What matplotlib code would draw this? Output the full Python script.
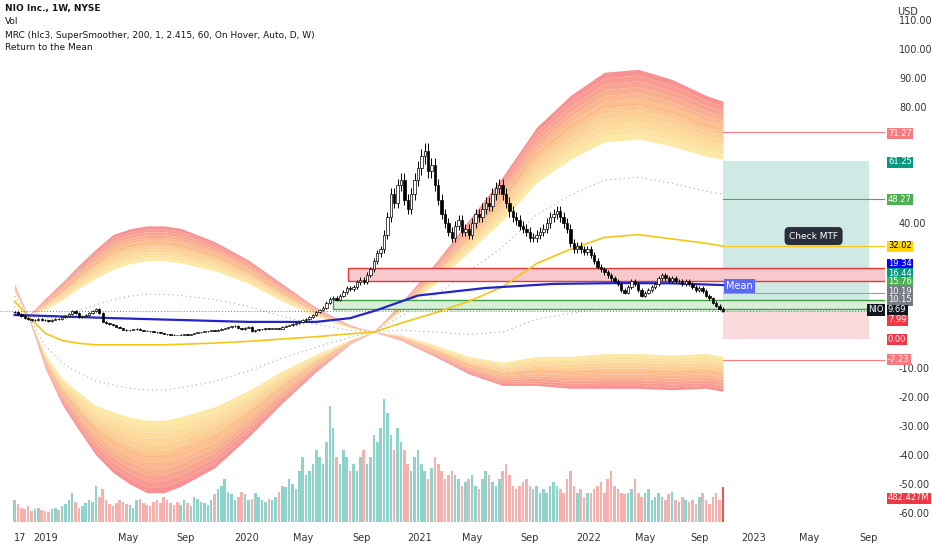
import numpy as np
import matplotlib.pyplot as plt
from matplotlib.colors import LinearSegmentedColormap
from matplotlib.patches import Rectangle

# weekly closes, week 0 = first week of 2019
first_week = -9
closes = [9.3, 8.5, 7.8, 7.2, 6.8, 6.4, 6.5, 6.9, 6.6, 6.4,
          6.2, 6.7, 7.0, 6.8, 7.5, 7.8, 8.5, 9.5, 8.9, 7.6,
          7.9, 8.4, 9.1, 9.6, 10.2, 8.9, 6.0, 5.4, 5.1, 4.7,
          4.3, 3.8, 3.2, 3.0, 3.1, 3.4, 3.6, 3.1, 2.9, 2.7,
          2.6, 2.4, 2.3, 2.0, 1.8, 1.6, 1.5, 1.4, 1.3, 1.5,
          1.6, 1.5, 1.7, 2.0, 2.3, 2.4, 2.6, 2.8, 3.0, 2.9,
          3.2, 3.5, 3.7, 4.1, 4.4, 4.6, 3.8, 3.4, 3.9, 4.3,
          2.6, 3.0, 3.3, 3.4, 3.7, 3.5, 3.6, 3.8, 3.6, 4.3,
          4.6, 4.8, 5.2, 5.5, 5.9, 6.6, 7.0, 7.5, 8.4, 9.2,
          10.0, 10.8, 12.5, 13.9, 14.2, 13.5, 15.0, 16.2, 17.5, 17.1,
          18.0, 19.5, 20.5, 19.8, 22.1, 24.0, 26.8, 29.5, 31.0, 36.0,
          42, 50, 47, 53, 55, 48, 45, 50, 55, 59,
          63, 65, 58, 60, 53, 48, 43, 40, 37, 35,
          39, 41, 37, 38, 36, 40, 43, 42, 45, 47,
          46, 50, 52, 53, 50, 47, 44, 42, 41, 39,
          38, 37, 35, 35, 36, 37, 38, 40, 42, 43,
          44, 42, 40, 38, 33, 31, 32, 31, 30, 31,
          29, 27, 25, 24, 23, 22, 21, 20, 19, 17,
          16, 18, 20, 19, 17, 15, 16, 17, 18, 19,
          21, 22, 21, 20, 21, 20, 20, 19, 20, 19,
          18, 17, 17.5, 16.5, 15, 14, 12.5, 11.5, 10.5, 9.69]
volumes = [300, 250, 200, 180, 220, 150, 180, 200, 160, 150,
           140, 180, 200, 160, 220, 250, 300, 400, 280, 200,
           220, 260, 300, 280, 500, 350, 450, 300, 250, 220,
           260, 300, 280, 250, 230, 200, 300, 320, 260, 240,
           220, 280, 300, 260, 350, 300, 260, 240, 280, 230,
           300, 260, 220, 350, 320, 280, 260, 240, 300, 380,
           450, 500, 600, 420, 380, 300, 350, 420, 380, 300,
           320, 400, 350, 300, 280, 320, 300, 350, 420, 500,
           480, 600, 520, 450, 700, 900, 650, 700, 800, 1000,
           900, 800, 1100, 1600, 1300, 900, 800, 1000, 900, 700,
           800, 700, 900, 1000, 800, 900, 1200, 1100, 1300, 1700,
           1500, 1200, 1000, 1300, 1100, 1000, 800, 700, 900, 1000,
           800, 700, 600, 750, 900, 800, 700, 600, 650, 700,
           650, 600, 500, 550, 600, 650, 500, 450, 600, 700,
           650, 550, 500, 600, 700, 800, 650, 500, 450, 500,
           550, 600, 500, 450, 500, 400, 450, 400, 500, 550,
           500, 450, 400, 600, 700, 500, 400, 450, 350, 400,
           400, 450, 500, 550, 400, 600, 700, 500, 450, 400,
           380, 400, 450, 600, 400, 350, 400, 450, 300, 350,
           400, 350, 300, 380, 420, 300, 280, 350, 300, 280,
           300, 250, 350, 400, 300, 250, 350, 400, 300, 482]

# blue moving average
ma_weeks = [-9, 20, 60, 80, 90, 98, 110, 130, 150, 170, 185, 200]
ma_vals = [8.3, 7.2, 5.9, 5.9, 7.2, 10, 15, 17.6, 19, 19.3, 19.2, 18.6]

# MRC mean and band offsets (inner / outer, upper / lower)
mrc_weeks = [-9, -5, 0, 5, 10, 15, 20, 25, 30, 35, 40, 50, 60, 70, 80, 90, 97,
             105, 115, 125, 135, 145, 155, 165, 175, 185, 195, 200]
mrc_mean = [13, 8, 2, -0.5, -1.5, -2, -2, -2, -2, -2, -1.8, -1.4, -0.8, 0, 0.8, 1.8, 2.4,
            5.5, 9, 13, 18, 26, 31, 35, 36, 34.5, 33, 32]
up_in = [-3, 0, 8, 14, 19, 23, 26, 28, 29, 29, 28, 25, 20, 13, 7, 2, 0,
         4, 10, 17, 23, 28, 31, 33, 33, 32, 30, 30]
up_out = [-5, 0, 12, 20, 27, 33, 38, 40, 41, 41, 40, 35, 28, 19, 10, 3, 0,
          7, 17, 28, 38, 47, 53, 57, 57, 55, 51, 50]
lo_in = [-3, 0, 7, 13, 17, 21, 23, 25, 26, 26, 25, 22, 17, 11, 6, 2, 0,
         4, 11, 19, 26, 32, 37, 40, 41, 40, 38, 38]
lo_out = [-6, 0, 12, 22, 30, 38, 44, 48, 51, 51, 49, 43, 33, 22, 12, 3.5, 0,
          6, 15, 25, 34, 42, 48, 52, 53, 52, 50, 50]

tick_weeks = [-7.4, 0, 24.5, 41.5, 59.5, 76, 93.5, 110.5, 126, 143, 160.5, 177, 193, 209, 225.5, 243]
tick_names = ['17', '2019', 'May', 'Sep', '2020', 'May', 'Sep', '2021', 'May', 'Sep',
              '2022', 'May', 'Sep', '2023', 'May', 'Sep']
price_ticks = [110, 100, 90, 80, 40, -10, -20, -30, -40, -50, -60]

fig = plt.figure(figsize=(9.32, 5.5), dpi=100)
ax = fig.add_axes([0, 28 / 550, 885 / 932, 522 / 550])
ax.set_xlim(-13.3, 247.8)
ax.set_ylim(-63.1, 116.9)

# volume on its own axis
vax = ax.twinx()
vax.set_ylim(0, 7200)
vax.axis('off')
weeks = np.arange(first_week, first_week + len(closes))
closes = np.array(closes)
opens = np.concatenate([[closes[0]], closes[:-1]])
up = closes >= opens
vax.bar(weeks, volumes, width=0.75,
        color=np.where(up, '#8fd3cb', '#f6b0ae'), zorder=1)
vax.bar(weeks[-1], volumes[-1], width=0.75, color='#ef5350')

ax.set_zorder(vax.get_zorder() + 1)
ax.patch.set_visible(False)

# MRC bands with gradient
mw = np.array(mrc_weeks)
m = np.array(mrc_mean)
cmap = LinearSegmentedColormap.from_list('mrc', ['#fde9a6', '#fcc58e', '#f89292'])
n = 12
for inner, outer, sign in [(np.array(up_in), np.array(up_out), 1),
                           (np.array(lo_in), np.array(lo_out), -1)]:
    for k in range(n):
        a = inner + (outer - inner) * k / n
        b = inner + (outer - inner) * (k + 1) / n
        ax.fill_between(mw, m + sign * a, m + sign * b, color=cmap(k / (n - 1)),
                        lw=0, zorder=1)
    ax.plot(mw, m + sign * (inner + outer) / 2, color='#f6a07a', lw=0.5, alpha=0.6, zorder=1.5)
    ax.plot(mw, m + sign * 0.6 * inner, color='#aaaaaa', lw=0.8, ls=(0, (1, 3)), zorder=1.5)
ax.plot(mw, m, color='#f5c518', lw=1.2, zorder=2)

# zones
ax.add_patch(Rectangle((89.4, 20), 200, 4.5, facecolor='#f7c9cc', edgecolor='#e53935',
                       lw=1, zorder=1.8))
ax.add_patch(Rectangle((85, 10.2), 200, 3.2, facecolor='#d6efd6', edgecolor='#43a047',
                       lw=1, zorder=1.8))

# position tool
ax.add_patch(Rectangle((200, 9.69), 43, 61.25 - 9.69, facecolor='#cfeae5', lw=0, zorder=1.6))
ax.add_patch(Rectangle((200, 0), 43, 9.69, facecolor='#fadadd', lw=0, zorder=1.6))

# level lines
for val, col in [(71.27, '#f77c80'), (48.27, '#4caf50'), (32.02, '#f5c518'),
                 (15.9, '#9e9e9e'), (-7.23, '#f77c80')]:
    ax.plot([200, 250], [val, val], color=col, lw=0.8, zorder=2)
ax.axhline(9.69, color='#777777', lw=0.7, ls=(0, (1, 2)), zorder=2)

ax.plot(ma_weeks, ma_vals, color='#2424c8', lw=1.6, zorder=3)

# candles
highs = np.maximum(opens, closes) * 1.04
lows = np.minimum(opens, closes) * 0.96
ax.vlines(weeks, lows, highs, color='black', lw=0.7, zorder=4)
body_h = np.abs(closes - opens)
body_h = np.maximum(body_h, 0.15)
ax.bar(weeks, body_h, bottom=np.minimum(opens, closes), width=0.7,
       color=np.where(up, 'white', 'black'), edgecolor='black', lw=0.5, zorder=5)

# axes
for s in ax.spines.values():
    s.set_visible(False)
ax.yaxis.tick_right()
ax.set_yticks(price_ticks)
ax.set_yticklabels([f'{v:.2f}' for v in price_ticks])
ax.tick_params(axis='y', length=0, labelsize=7, colors='#333333', pad=10)
ax.set_xticks(tick_weeks)
ax.set_xticklabels(tick_names)
ax.tick_params(axis='x', length=0, labelsize=7, colors='#333333', pad=8)
ax.grid(False)
fig.text(897 / 932, 1 - 12 / 550, 'USD', fontsize=7, color='#333333', va='center')

# price tags
tags = [(133, '71.27', '#f77c80', 'white'), (162, '61.25', '#089981', 'white'),
        (199, '48.27', '#4caf50', 'white'), (246, '32.02', '#ffd600', 'black'),
        (264, '19.34', '#0000ff', 'white'), (273, '16.44', '#089981', 'white'),
        (282, '15.76', '#4caf50', 'white'), (291, '10.19', '#787b86', 'white'),
        (300, '10.15', '#787b86', 'white'), (310, '9.69', '#131722', 'white'),
        (320, '7.99', '#f23645', 'white'), (339, '0.00', '#f23645', 'white'),
        (359, '-7.23', '#f77c80', 'white'), (498, '482.427M', '#f23645', 'white')]
for py, txt, bg, fg in tags:
    fig.text(888 / 932, 1 - py / 550, txt, fontsize=6, color=fg, va='center', ha='left',
             bbox=dict(boxstyle='square,pad=0.12', fc=bg, ec='none'))
fig.text(868 / 932, 1 - 310 / 550, 'NIO', fontsize=6, color='white', va='center',
         bbox=dict(boxstyle='square,pad=0.15', fc='#131722', ec='none'))
ax.text(201, 18.4, 'Mean', fontsize=7, color='white', va='center',
        bbox=dict(boxstyle='square,pad=0.2', fc='#5b6af5', ec='none'), zorder=6)
ax.text(219.5, 35.5, 'Check MTF', fontsize=6.5, color='white', va='center',
        bbox=dict(boxstyle='round,pad=0.5', fc='#2a2e39', ec='none'), zorder=6)

info = ['NIO Inc., 1W, NYSE', 'Vol', 'MRC (hlc3, SuperSmoother, 200, 1, 2.415, 60, On Hover, Auto, D, W)',
        'Return to the Mean']
for i, t in enumerate(info):
    fig.text(5 / 932, 1 - (9 + 13 * i) / 550, t, fontsize=6.5, color='#131722', va='center',
             weight='bold' if i == 0 else 'normal')

fig.savefig('out.png', dpi=100, facecolor='white')
